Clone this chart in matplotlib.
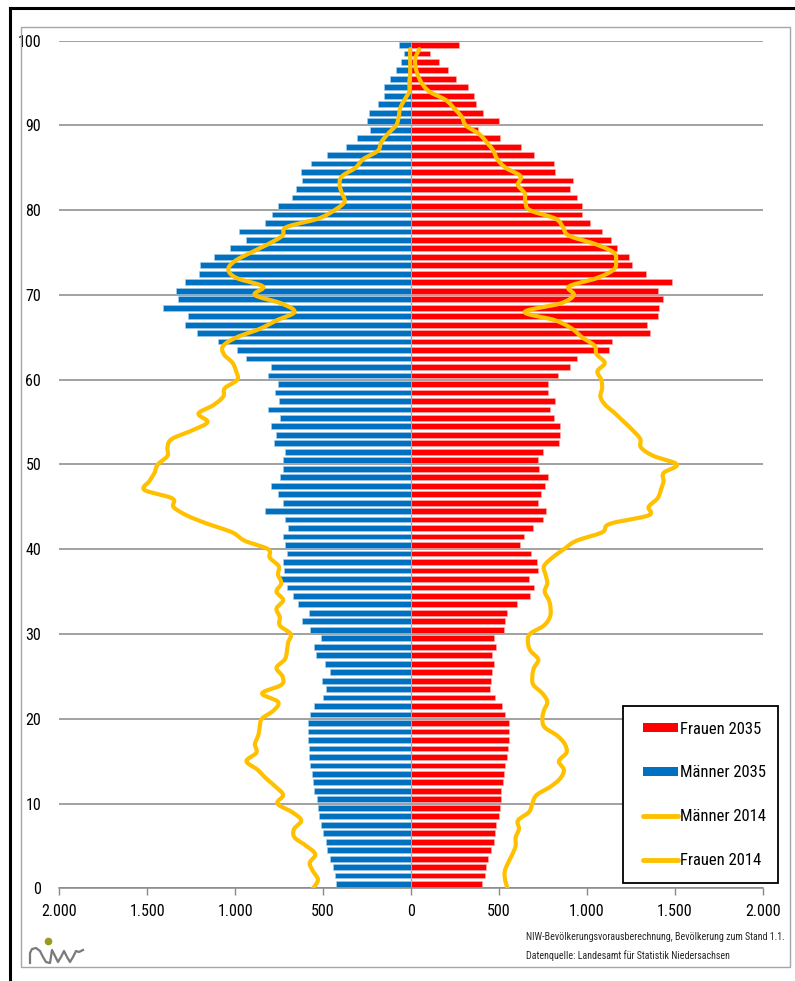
import numpy as np
import matplotlib
matplotlib.use('Agg')
import matplotlib.pyplot as plt
from matplotlib.lines import Line2D
from matplotlib.patches import Rectangle, Patch
from matplotlib.ticker import FuncFormatter
from matplotlib import font_manager

# a narrow sans like the Calibri of the original, if one is there
names = {f.name for f in font_manager.fontManager.ttflist}
fams = [f for f in ['Roboto Condensed', 'Liberation Sans Narrow', 'Liberation Sans'] if f in names]
plt.rcParams['font.family'] = fams + ['DejaVu Sans']
narrow = fams[0] in ('Roboto Condensed', 'Liberation Sans Narrow') if fams else False

ages = np.arange(100)

maenner_2035 = [425, 431, 446, 461, 476, 484, 499, 514, 522, 529,
                537, 550, 557, 565, 573, 580, 580, 588, 588, 588,
                573, 550, 499, 484, 506, 461, 491, 542, 550, 514,
                573, 618, 580, 641, 669, 707, 750, 722, 730, 707,
                714, 730, 699, 714, 832, 730, 758, 796, 743, 730,
                730, 714, 781, 765, 796, 743, 811, 750, 773, 758,
                811, 796, 936, 987, 1098, 1217, 1283, 1268, 1408, 1327,
                1334, 1283, 1208, 1200, 1119, 1030, 936, 979, 832, 788,
                758, 677, 654, 618, 625, 567, 476, 372, 306, 232,
                248, 240, 187, 151, 151, 121, 83, 55, 40, 70]

frauen_2035 = [404, 418, 425, 440, 455, 471, 478, 486, 499, 506,
               514, 514, 522, 529, 537, 544, 552, 560, 560, 560,
               537, 516, 478, 448, 455, 463, 471, 463, 486, 471,
               529, 537, 544, 603, 677, 699, 671, 722, 714, 684,
               618, 641, 694, 752, 767, 722, 737, 760, 781, 730,
               722, 752, 841, 849, 849, 811, 788, 818, 781, 781,
               834, 902, 945, 1128, 1144, 1359, 1344, 1404, 1410, 1433,
               1404, 1486, 1336, 1255, 1240, 1174, 1136, 1085, 1019, 975,
               975, 945, 907, 922, 818, 811, 701, 626, 508, 382,
               501, 412, 367, 359, 323, 255, 212, 161, 108, 272]

maenner_2014 = [557, 529, 557, 576, 544, 595, 662, 665, 624, 677,
                760, 727, 771, 826, 873, 936, 879, 888, 869, 860,
                848, 780, 756, 847, 737, 731, 765, 718, 705, 699,
                684, 746, 746, 765, 727, 765, 737, 756, 752, 803,
                812, 945, 1017, 1157, 1276, 1351, 1357, 1516, 1489, 1459,
                1440, 1385, 1385, 1361, 1247, 1157, 1209, 1124, 1068, 1059,
                988, 995, 1015, 1064, 1068, 992, 860, 765, 662, 737,
                888, 841, 992, 1039, 1002, 911, 812, 731, 709, 529,
                435, 378, 393, 406, 393, 316, 274, 189, 170, 132,
                85, 70, 62, 38, 10, 10, 5, 5, 5, 5]

frauen_2014 = [548, 535, 533, 552, 576, 595, 595, 614, 608, 671,
               690, 714, 794, 850, 869, 841, 884, 875, 832, 760,
               747, 756, 775, 747, 696, 690, 699, 724, 680, 665,
               676, 756, 790, 794, 784, 760, 775, 765, 756, 803,
               869, 940, 1087, 1130, 1351, 1351, 1402, 1421, 1436, 1436,
               1512, 1380, 1308, 1304, 1263, 1213, 1162, 1106, 1077, 1087,
               1082, 1060, 1102, 1055, 1045, 973, 917, 822, 646, 850,
               926, 898, 1058, 1153, 1166, 1153, 1049, 898, 864, 822,
               676, 650, 646, 608, 624, 539, 491, 469, 431, 387,
               312, 289, 246, 198, 104, 61, 38, 25, 25, 47]

labels = ['Frauen 2035', 'Männer 2035', 'Männer 2014', 'Frauen 2014']

RED = '#FF0000'
BLUE = '#0070C0'
ORANGE = '#FFC000'
GRID = '#888888'


def smooth(x, y, n=8):
    # Catmull-Rom curve through the points, like Excel's smoothed line
    pts = np.column_stack([x, y]).astype(float)
    P = np.vstack([pts[0], pts, pts[-1]])
    t = np.linspace(0, 1, n, endpoint=False)[:, None]
    out = []
    for i in range(len(pts) - 1):
        p0, p1, p2, p3 = P[i], P[i + 1], P[i + 2], P[i + 3]
        seg = 0.5 * (2 * p1 + (-p0 + p2) * t
                     + (2 * p0 - 5 * p1 + 4 * p2 - p3) * t ** 2
                     + (-p0 + 3 * p1 - 3 * p2 + p3) * t ** 3)
        out.append(seg)
    out.append(pts[-1:])
    c = np.vstack(out)
    return c[:, 0], c[:, 1]


W, H = 795, 981
fig = plt.figure(figsize=(W / 100, H / 100), dpi=100)
ax = fig.add_axes([59.3 / W, 1 - 888.3 / H, 703.4 / W, 847.6 / H])

ax.barh(ages + 0.5, -np.array(maenner_2035), height=0.68, color=BLUE,
        edgecolor='#a9cbe8', linewidth=0.4, zorder=2)
ax.barh(ages + 0.5, frauen_2035, height=0.68, color=RED,
        edgecolor='#ffb0b0', linewidth=0.4, zorder=2)

mx, my = smooth(-np.array(maenner_2014), ages)
fx, fy = smooth(np.array(frauen_2014), ages)
ax.plot(mx, my, color=ORANGE, lw=3, solid_capstyle='round', zorder=3)
ax.plot(fx, fy, color=ORANGE, lw=3, solid_capstyle='round', zorder=3)

ax.axvline(0, color='#a0a0a0', lw=1, zorder=1)

ax.set_xlim(-2000, 2000)
ax.set_ylim(0, 100)
ax.set_yticks(range(0, 101, 10))
ax.set_xticks(range(-2000, 2001, 500))
ax.xaxis.set_major_formatter(FuncFormatter(lambda v, p: f"{abs(int(v)):,}".replace(',', '.')))
ax.yaxis.grid(True, color=GRID, lw=1.1)
ax.set_axisbelow(True)
for s in ['left', 'right', 'top']:
    ax.spines[s].set_visible(False)
ax.spines['bottom'].set_color(GRID)
ax.spines['bottom'].set_linewidth(1.1)
ax.tick_params(axis='y', length=0, pad=13, labelsize=11.5)
ax.tick_params(axis='x', length=5, width=1, color=GRID, pad=6, labelsize=11.5)

# legend box
fig.add_artist(Rectangle((622.7 / W, 1 - 883.3 / H), 155.3 / W, 177.6 / H,
                         transform=fig.transFigure, facecolor='white',
                         edgecolor='black', lw=1.3, zorder=4))
handles = [Patch(facecolor=RED), Patch(facecolor=BLUE),
           Line2D([], [], color=ORANGE, lw=3.5, solid_capstyle='round'),
           Line2D([], [], color=ORANGE, lw=3.5, solid_capstyle='round')]
leg_fs = 12 if narrow else 11
fig.legend(handles, labels, loc='center left', frameon=False, fontsize=leg_fs,
           bbox_to_anchor=(635 / W, 1 - 794.8 / H), borderpad=0,
           labelspacing=1.73 * 12 / leg_fs, handlelength=2.05 * 12 / leg_fs,
           handleheight=0.45, handletextpad=0.15).set_zorder(5)

# frames
fig.add_artist(Rectangle((21 / W, 1 - 967 / H), 769 / W, 940 / H,
                         transform=fig.transFigure, fill=False,
                         edgecolor='#a6a6a6', lw=1, zorder=1))
fig.add_artist(Line2D([10 / W, 10 / W], [0, 1 - 8 / H], color='black', lw=2.2,
                      transform=fig.transFigure))
fig.add_artist(Line2D([10 / W, 1], [1 - 8 / H, 1 - 8 / H], color='black', lw=2.2,
                      transform=fig.transFigure))

# footer
foot_fs = 7.2 if narrow else 6.8
t1 = fig.text(785 / W, 1 - 937 / H,
              'NIW-Bevölkerungsvorausberechnung, Bevölkerung zum Stand 1.1.',
              fontsize=foot_fs, va='center', ha='right', color='#262626')
fig.canvas.draw()
x0 = t1.get_window_extent().x0 / W
fig.text(x0, 1 - 956 / H,
         'Datenquelle: Landesamt für Statistik Niedersachsen',
         fontsize=foot_fs, va='center', ha='left', color='#262626')

# NIW logo
lx = np.array([30, 30, 32, 36, 40, 43, 46, 50, 52, 55, 58, 61, 64, 67, 70, 73, 76, 79, 83])
ly = np.array([963, 953, 949, 948, 951, 957, 962, 963, 950, 956, 962, 957, 951, 957, 962, 957, 951, 952, 950])
fig.add_artist(Line2D(lx / W, 1 - ly / H, color='#7a7a7a', lw=1.6,
                      transform=fig.transFigure))
fig.add_artist(Line2D([48 / W], [1 - 941 / H], marker='o', markersize=4.5,
                      color='#9a9a22', transform=fig.transFigure))

fig.savefig('out.png', dpi=100)
